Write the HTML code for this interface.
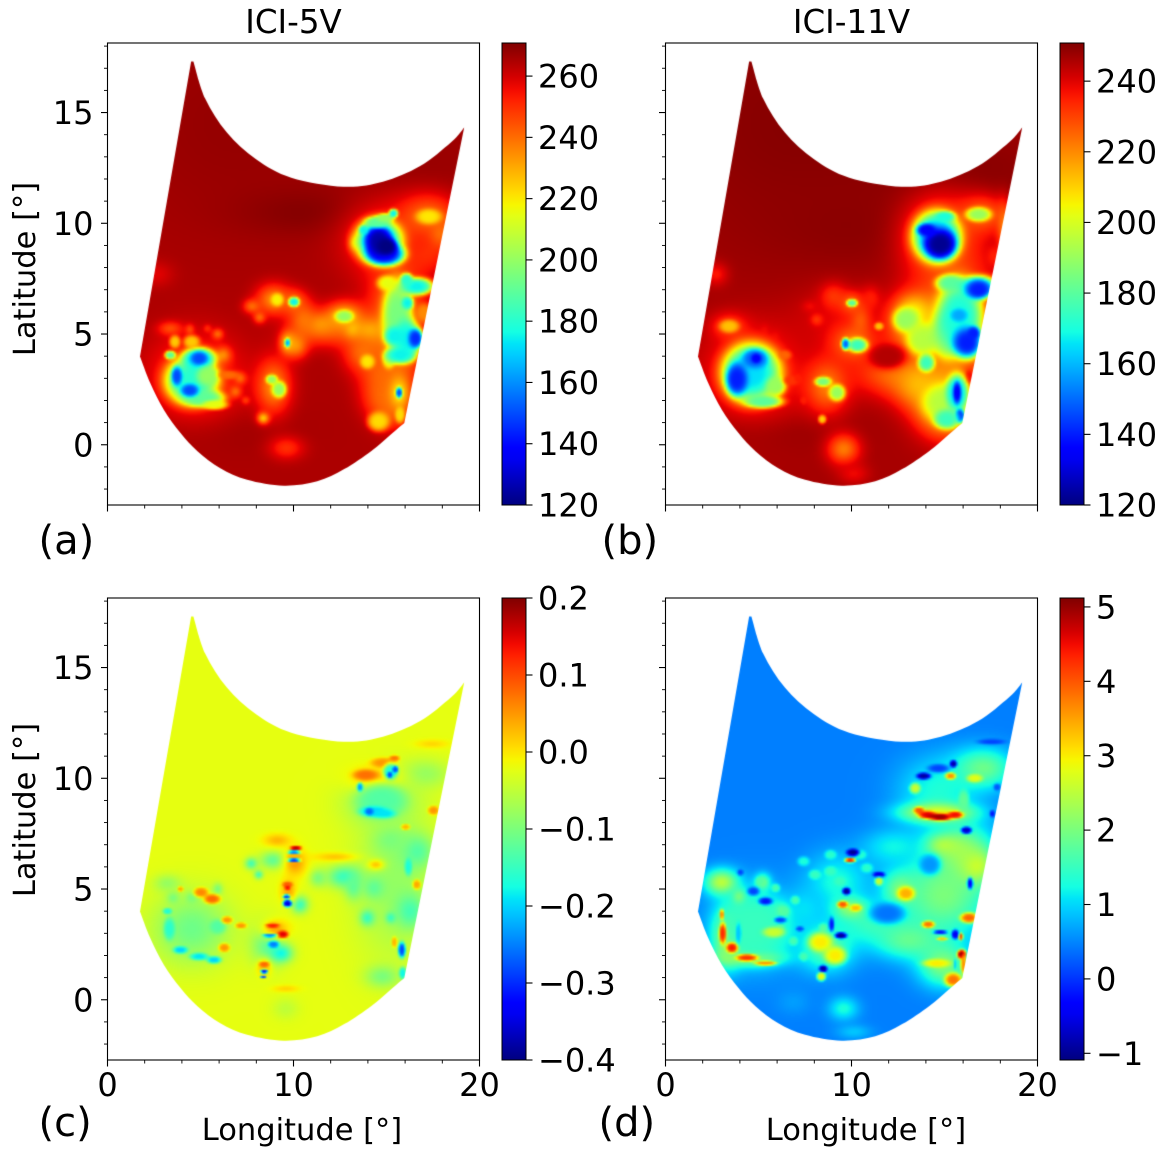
<!DOCTYPE html>
<html><head><meta charset="utf-8"><title>ICI brightness temperature maps</title>
<style>
html,body{margin:0;padding:0;background:#fff}
#stage{position:relative;width:1166px;height:1158px;overflow:hidden;background:#fff}
canvas{position:absolute}
svg{position:absolute;left:0;top:0}
text{font-family:"DejaVu Sans","Liberation Sans",sans-serif;fill:#000}
</style></head>
<body>
<div id="stage">
<canvas id="map-a" width="372" height="462" style="left:107.5px;top:43px"></canvas>
<canvas id="map-b" width="372" height="462" style="left:665.5px;top:43px"></canvas>
<canvas id="map-c" width="372" height="462" style="left:107.5px;top:598px"></canvas>
<canvas id="map-d" width="372" height="462" style="left:665.5px;top:598px"></canvas>
<svg id="overlay" width="1166" height="1158" viewBox="0 0 1166 1158">
<defs id="defs"></defs>
<text x="293.5" y="33" font-size="32.5" text-anchor="middle">ICI-5V</text>
<text x="851.5" y="33" font-size="32.5" text-anchor="middle">ICI-11V</text>
<text transform="translate(35,269) rotate(-90)" font-size="30.5" text-anchor="middle">Latitude [°]</text>
<text transform="translate(35,810) rotate(-90)" font-size="30.5" text-anchor="middle">Latitude [°]</text>
<text x="302" y="1140" font-size="30.5" text-anchor="middle">Longitude [°]</text>
<text x="866" y="1140" font-size="30.5" text-anchor="middle">Longitude [°]</text>
<text x="38.5" y="554" font-size="40">(a)</text>
<text x="601.5" y="554" font-size="40">(b)</text>
<text x="38.5" y="1136" font-size="40">(c)</text>
<text x="598.5" y="1136" font-size="40">(d)</text>
</svg>
</div>
<script>
// axis ticks
const lonTicks = [0, 10, 20];
const latTicks = [0, 5, 10, 15];
const lonMinorTicks = [2, 4, 6, 8, 12, 14, 16, 18];
const latMinorTicks = [-2, -1, 1, 2, 3, 4, 6, 7, 8, 9, 11, 12, 13, 14, 16, 17, 18];
const cbarTicksA = [120, 140, 160, 180, 200, 220, 240, 260];
const cbarTicksB = [120, 140, 160, 180, 200, 220, 240];
const cbarTicksC = [-0.4, -0.3, -0.2, -0.1, 0.0, 0.1, 0.2];
const cbarTicksD = [-1, 0, 1, 2, 3, 4, 5];
// colour ranges and background level of each panel [min, max, background]
const rangeA = [120, 270.8, 265];
const rangeB = [120, 250.8, 246.5];
const rangeC = [-0.4, 0.2, -0.022];
const rangeD = [-1.09, 5.12, 0.46];
// swath outline, read in degrees
const swathTopLon = [4.59,5.23,6.38,7.96,9.85,12.66,14.78,16.76,18.46,19.15];
const swathTopLat = [17.31,15.62,14.11,12.89,12.06,11.65,11.88,12.57,13.67,14.33];
const swathBottomLon = [15.93,15.19,14.16,12.7,11.25,9.45,7.48,6.04,4.81,3.9,3.0,2.27,1.72];
const swathBottomLat = [0.98,0.45,-0.28,-1.10,-1.65,-1.85,-1.58,-1.06,-0.29,0.53,1.58,2.79,3.99];
// map features: [lon, lat, spreadLon, spreadLat, value]; soft glows first, crisp cores after
const glowA = [
[7.1,14.5,6.3,4.2,268],[16.6,12.6,4.5,1.8,267.5],[10.7,10.5,3.2,0.9,270],[2.6,7.7,0.8,0.5,258],[5.9,0.7,3.6,0.9,267],
[9.6,-0.15,0.8,0.45,250],[14.65,9.25,1.8,1.45,250],[17.2,10.3,1.4,0.9,240],[17.25,8.65,0.9,0.8,252],[17.9,9.55,0.55,0.6,240],
[12.1,5.05,1.8,0.6,248],[8.9,6.55,0.8,0.6,235],[7.75,6.25,0.4,0.27,240],[8.15,5.75,0.27,0.23,240],[10,6.45,0.55,0.45,240],
[10.5,5.65,0.7,0.75,240],[11.4,5.4,0.7,0.45,235],[12.7,5.8,0.9,0.55,225],[13.2,5.2,0.35,0.3,225],[14.1,5.1,0.9,0.5,225],
[10.15,4.5,0.5,0.5,235],[9.65,4.6,0.35,0.42,225],[13.75,4.15,0.9,0.75,240],[15.55,5.5,1.25,2.25,230],[15.3,1.7,0.9,0.75,245],
[14.8,3.2,1,1.2,242],[15,2.2,0.9,0.8,240],
[15.4,2.8,0.7,1.2,240],[4.7,3.1,2.05,1.6,245],[3.35,5.25,0.55,0.27,245],[4.4,5.2,0.2,0.2,245],[5.35,5.25,0.18,0.15,250],
[5.9,5,0.25,0.2,240],[6.2,4.05,0.35,0.3,235],[7.1,3,0.27,0.22,240],[6.85,2.4,0.27,0.23,240],[7.4,2,0.18,0.15,248],
[8.9,2.65,0.8,1.05,235],[8.35,1.2,0.27,0.22,225],[13.2,9.1,0.22,0.27,240],[15.65,2.35,0.4,0.55,220]
];
const coreA = [
[17.25,10.3,0.7,0.35,220],[9.1,6.55,0.35,0.3,218],[10,6.45,0.3,0.22,175],[12.7,5.8,0.5,0.28,200],[9.65,4.6,0.15,0.2,165],
[13.95,3.75,0.4,0.33,220],[15.1,3.85,0.35,0.42,215],[15.55,5.8,0.8,1.65,195],[16.1,4.75,0.7,0.9,175],[15.7,4.05,0.8,0.4,175],
[15,7.3,0.55,0.35,215],[16.6,7.15,0.9,0.4,175],[16.05,7.45,0.35,0.3,180],[16.55,4.8,0.4,0.45,145],[16.1,6.4,0.32,0.3,175],
[15.4,4.9,0.55,0.45,175],[17,5.95,0.45,0.45,235],[15.65,2.35,0.18,0.25,150],[14.55,1.05,0.6,0.45,222],[15.7,1.35,0.27,0.38,222],
[4.5,2.9,1.45,1.1,180],[5.15,2.1,1.15,0.4,190],[4.9,3.9,0.9,0.5,170],[4.9,3.9,0.45,0.3,150],[3.7,3.1,0.3,0.45,150],
[4.4,2.45,0.5,0.3,150],[5.35,3.1,0.6,0.45,200],[6.5,3.15,0.6,0.2,240],[3.35,4.05,0.3,0.2,190],[3.6,4.65,0.3,0.3,225],
[4.5,4.65,0.45,0.3,225],[5.75,1.8,0.7,0.22,215],[8.8,2.95,0.32,0.22,200],[9.2,2.5,0.4,0.38,200],
[14.55,9.2,1.3,1,170],[14.9,8.6,1.05,0.52,140],[14.55,9.2,0.75,0.7,125],[15,8.95,0.55,0.4,120],[13.75,9.7,0.27,0.22,175],
[14.5,10.05,0.7,0.27,190],[14.9,10.25,0.5,0.2,200],[15.35,10.45,0.25,0.2,175]
];
const glowB = [
[7.2,14.5,7.2,4.8,250],[15.8,12.2,4.5,1.5,250],[10.4,9.9,4.5,1.5,249.5],[2.7,7.7,0.55,0.45,236],[5.3,0.7,3.6,0.75,249],
[9.55,-0.2,0.75,0.6,222],[10.1,-1.3,0.7,0.4,238],[9.2,5.8,2,1.2,240],[9,6.7,0.6,0.5,232],[7.75,6.25,0.35,0.22,238],
[8.1,5.65,0.27,0.22,232],[10,6.4,0.55,0.42,225],[11,6.65,0.45,0.45,236],[10.45,5.65,0.45,0.6,228],
[15.5,5.2,1.95,3,220],[12.2,3.25,1.8,0.9,225],[13.5,2.8,1.1,0.9,215],[11.9,4,0.8,0.45,245],[16.3,3.05,0.35,0.4,238],
[13.5,5.4,1.3,1,215],[13.3,5.9,0.8,0.7,205],[15.1,1.9,1.3,1.1,205],[4.7,3.25,2.25,1.8,230],[3.4,5.35,0.8,0.5,230],[5.3,5.2,0.2,0.2,238],[5.9,4.9,0.2,0.2,238],
[8.65,2.65,1,1.05,222],[10.05,4.6,1,0.7,222],[14.65,9.4,1.6,1.5,222],[17,10.4,1.15,0.75,225],[17.6,8.5,0.3,0.4,235],[18.15,9.85,0.3,0.9,222],
[15,1.7,1.05,0.9,215]
];
const coreB = [
[11.45,5.35,0.25,0.18,212],[12.9,5.65,0.7,0.55,190],[13.8,4.75,0.9,0.75,195],[15.1,5,0.9,1.1,190],[14,3.7,0.45,0.4,175],
[15.8,5.8,1.25,1.65,170],[15.3,7.3,0.8,0.4,180],[16.8,7.15,1,0.5,165],[16.8,7,0.7,0.45,140],[16.2,4.6,0.8,0.7,140],
[16.55,5.05,0.35,0.3,140],[15.75,5.85,0.45,0.3,158],[11.9,4,1,0.55,245],[16.3,3.05,0.22,0.3,238],[14.95,1.9,1.15,0.85,195],
[15.65,2.35,0.6,0.85,165],[15.65,2.35,0.22,0.5,135],[15.8,1.3,0.27,0.33,140],[15.1,1.15,0.7,0.45,175],
[4.6,3.25,1.6,1.35,165],[4.8,3.9,0.7,0.45,148],[4.85,3.9,0.27,0.22,135],[3.8,2.95,0.6,0.75,140],[5.25,1.95,1.05,0.3,180],
[5.9,2.65,0.55,0.45,190],[6.75,2.9,0.45,0.22,232],[3.4,5.35,0.55,0.3,212],[6.4,4.05,0.35,0.22,225],[7.1,3,0.2,0.2,235],[7.4,2,0.18,0.18,235],
[8.45,2.85,0.45,0.22,185],[9.2,2.35,0.45,0.38,190],[8.4,1.15,0.22,0.2,210],[10.3,4.5,0.55,0.33,175],[9.65,4.55,0.22,0.27,150],
[10,6.4,0.3,0.18,180],[14.55,9.4,1.3,1.15,160],[14.75,9.05,0.9,0.7,122],[14,9.7,0.55,0.3,135],[15,10.3,0.55,0.25,170],[16.8,10.4,0.7,0.33,190]
];
const glowC = [
[14.65,8.95,1.4,0.85,-0.1],[17,10.2,1.05,0.5,-0.08],[17.4,11.55,0.7,0.15,0.01],[15.4,5.3,1.6,2.55,-0.08],[16.6,6.7,0.7,0.6,-0.13],
[15.2,7.2,0.7,0.45,-0.1],[16.25,4,0.6,0.6,-0.14],[13.95,3.7,0.3,0.27,-0.15],[15.2,3.7,0.2,0.18,-0.15],[12.7,5.55,0.7,0.38,-0.15],
[10.3,4.3,0.35,0.3,-0.15],[8.9,6.3,0.55,0.3,-0.12],[7.7,6.15,0.25,0.2,-0.14],[8.1,5.65,0.18,0.15,-0.14],[11.3,5.5,0.35,0.3,-0.1],
[13.2,5.1,0.35,0.45,-0.12],[14.3,5.05,0.45,0.38,-0.12],[14.75,1.05,0.7,0.38,-0.1],[9.55,-0.4,0.55,0.38,-0.05],[9.55,0.5,0.55,0.12,0.012],
[4.5,3.2,1.6,1.2,-0.11],[3.2,5.25,0.55,0.3,-0.08],[3.5,4.6,0.25,0.2,-0.1],[4.5,4.6,0.25,0.2,-0.1],[5.9,5,0.2,0.2,-0.1],
[8.6,2.5,0.7,0.75,-0.12],[9.3,2.1,0.45,0.3,-0.18],[9.1,7.2,0.55,0.22,0.03],[10.05,6.2,0.45,0.45,0.05],[9.7,4.9,0.32,0.4,0.04],[9,3.2,0.6,0.35,0.04],[8.4,1.45,0.3,0.3,0.04],
[14.3,10,1.1,0.5,0.02],[12.2,6.45,0.9,0.15,0.02],[14.4,6.1,0.35,0.18,0.02]
];
const coreC = [
[14.7,9,1.2,0.7,-0.13],[14.3,8.5,0.7,0.22,-0.2],[14.85,8.4,0.55,0.18,-0.19],[14.05,8.5,0.2,0.15,-0.26],[13.55,9.6,0.15,0.18,-0.23],[13.85,10.15,0.6,0.22,0.075],
[14.8,10.7,0.6,0.2,0.05],[15.4,10.9,0.25,0.12,0.07],[15.2,10.3,0.35,0.33,-0.17],[15.45,10.4,0.14,0.14,-0.28],[15.15,10.15,0.14,0.12,-0.28],
[17.5,8.55,0.27,0.18,0.05],[16,7.8,0.22,0.12,0.03],[16.15,6,0.18,0.35,-0.17],[16.6,5.2,0.2,0.2,0.04],[15.8,2.25,0.18,0.32,-0.28],[15.85,1.2,0.18,0.25,-0.18],[15.4,2.6,0.14,0.22,0.03],
[3.3,3.2,0.27,0.45,-0.16],[3.9,2.25,0.35,0.15,-0.2],[4.9,1.95,0.45,0.15,-0.19],[5.7,1.8,0.35,0.15,-0.2],[3.2,4,0.22,0.12,-0.17],[5.9,3.3,0.4,0.3,-0.13],
[5,4.85,0.35,0.2,0.06],[5.6,4.55,0.4,0.2,0.08],[6.4,3.6,0.27,0.15,0.05],[7.15,3.35,0.27,0.12,0.05],[6.25,2.35,0.27,0.18,0.05],[3.9,5,0.14,0.1,0.04],
[10.1,6.85,0.27,0.09,0.17],[10,6.66,0.3,0.08,-0.25],[10,6.48,0.3,0.08,0.03],[10,6.3,0.3,0.08,-0.3],
[9.65,5.2,0.25,0.12,0.09],[9.65,5.05,0.14,0.08,0.14],[9.6,4.65,0.18,0.09,-0.3],[9.65,4.35,0.22,0.15,-0.35],
[8.85,3.35,0.32,0.09,0.13],[9.4,2.95,0.27,0.15,0.15],[8.7,2.9,0.35,0.08,-0.25],[8.9,2.5,0.27,0.15,-0.25],
[8.4,1.6,0.25,0.11,0.08],[8.4,1.28,0.18,0.09,-0.32],[8.35,1.03,0.14,0.06,-0.3]
];
const glowD = [
[11,3.4,1.4,0.65,1.4],[13,2.7,1.4,0.65,1.8],[14.9,1.6,1,0.75,2.1],[14.9,4.7,2,1.5,2],[15.8,6.7,1.3,1,2.2],[16.7,6.05,0.7,0.6,2.6],
[14.9,7,0.7,0.35,2.6],[12.6,5,0.7,0.6,2],[12.25,6.9,1.25,0.6,1.2],[9.2,5.3,1.3,1,1.3],[7.5,4.2,0.7,0.6,1],[9.95,4.1,0.7,0.38,2.2],
[14.6,9.4,1.6,1.15,1.3],[14.6,8.45,1.45,0.33,2.8],[17.05,10.45,1.25,0.7,1.9],[4.75,3.25,1.8,1.4,1.2],[3.3,2.7,0.55,0.9,2.6],[4.55,1.9,1.25,0.27,2.6],
[3,5.3,0.7,0.45,2.5],[3.95,4.6,0.27,0.27,2.5],[5.2,5.3,0.32,0.3,2],[6.2,4,0.27,0.22,2.4],[8.65,2.35,1.1,0.8,1.8],[9.55,-0.4,0.6,0.4,1.3],[10.1,-1.45,0.7,0.25,0.9],[6.85,-0.1,0.7,0.45,0.65]
];
const coreD = [
[4.75,3.3,1.9,1.5,1.5],[7.4,6.25,0.3,0.2,1.3],[8,5.65,0.3,0.2,1.5],[8.85,5.8,0.3,0.2,1.5],[9.35,5.35,0.3,0.2,1.5],[10.45,6.55,0.3,0.2,1.4],[10.8,5.95,0.3,0.2,1.4],[8.85,6.55,0.3,0.2,1.4],
[5.05,5.35,0.22,0.18,1.7],[5.9,5.05,0.22,0.18,1.6],[6.95,4.5,0.22,0.18,1.6],[6.4,4,0.22,0.18,1.7],[6.15,3.25,0.22,0.18,1.7],[6.85,2.65,0.22,0.18,1.6],[7.4,1.95,0.22,0.18,1.6],[8.45,3.25,0.22,0.18,1.7],
[11.9,3.9,0.9,0.45,0.4],[14.2,6.1,0.55,0.45,0.6],[12.9,4.8,0.45,0.3,3.4],[9.5,4.3,0.27,0.15,4],[10.2,4.15,0.3,0.15,3.3],
[9.9,6.3,0.27,0.1,4.3],[10.05,6.65,0.32,0.15,-1],[9.7,4.9,0.2,0.15,-1],[11.45,5.65,0.3,0.12,-0.6],[11.45,5.35,0.2,0.18,2.6],
[16.35,5.25,0.15,0.25,-0.3],[16.15,7.65,0.27,0.15,-0.7],[17.55,8.4,0.14,0.15,-0.2],[17.8,9.6,0.18,0.15,0.2],
[13.6,8.55,0.27,0.15,4],[14.05,8.35,0.45,0.16,4.6],[14.75,8.25,0.6,0.15,5],[15.55,8.35,0.4,0.15,4.5],[13.4,9.55,0.27,0.22,2.6],[16,9,0.27,0.45,1.8],
[13.85,10.1,0.35,0.14,-0.9],[15.45,10.65,0.18,0.15,-0.9],[14.65,10.45,0.55,0.18,0.1],[15.3,10.1,0.27,0.15,3.6],[16.6,10,0.4,0.18,2.8],[17.5,11.65,0.7,0.12,0.1],
[3,3.85,0.12,0.22,3.6],[3.05,3,0.18,0.45,4.3],[3.55,2.35,0.3,0.22,4.4],[4.35,1.9,0.55,0.15,4.2],[5.35,1.65,0.55,0.1,3.6],[3.9,3,0.14,0.45,0.9],[5.8,3.05,0.55,0.22,2.6],
[5.35,4.45,0.35,0.16,-0.2],[4.7,4.9,0.3,0.18,0.1],[4,5.75,0.16,0.13,0.1],[6.15,3.6,0.3,0.13,0.1],[7.2,3.2,0.2,0.1,0.1],[8.9,3.4,0.13,0.3,-0.2],[9.4,2.9,0.3,0.13,-1],
[8.45,1.4,0.2,0.14,-1],[8.35,1.05,0.22,0.18,2.9],[8.3,2.6,0.6,0.4,3],[9.1,2,0.55,0.38,3],
[15.9,2.05,0.22,0.2,5.1],[15.85,2.85,0.11,0.15,4.2],[15.55,2.95,0.18,0.2,-0.5],[16.3,3.7,0.45,0.22,3.9],[14.1,3.4,0.32,0.15,3.8],[14.75,3.05,0.35,0.09,-0.2],[14.85,2.75,0.27,0.08,3.2],
[14.55,1.65,0.7,0.18,3],[15.45,0.9,0.45,0.3,3.8],[16,1.6,0.15,0.45,3.6],[15.55,1.6,0.09,0.22,1]
];

// jet colormap
function jetChannel(t, knots) {
  for (let i = 1; i < knots.length; i++) {
    if (t <= knots[i][0]) {
      const a = knots[i-1], b = knots[i];
      return a[1] + (b[1]-a[1]) * (t-a[0]) / (b[0]-a[0]);
    }
  }
  return knots[knots.length-1][1];
}
const jetR = [[0,0],[0.35,0],[0.66,1],[0.89,1],[1,0.5]];
const jetG = [[0,0],[0.125,0],[0.375,1],[0.64,1],[0.91,0],[1,0]];
const jetB = [[0,0.5],[0.11,1],[0.34,1],[0.65,0],[1,0]];
function jet(t) {
  t = Math.max(0, Math.min(1, t));
  return [jetChannel(t,jetR)*255, jetChannel(t,jetG)*255, jetChannel(t,jetB)*255];
}

// axis functions (degrees to panel pixels)
const PANEL_W = 372, PANEL_H = 462;
const LON_MIN = 0, LON_MAX = 20, LAT_MIN = -2.72, LAT_MAX = 18.14;
function xScale(lon) { return (lon-LON_MIN)/(LON_MAX-LON_MIN)*PANEL_W; }
function yScale(lat) { return PANEL_H-(lat-LAT_MIN)/(LAT_MAX-LAT_MIN)*PANEL_H; }
function lonOf(px) { return LON_MIN+px/PANEL_W*(LON_MAX-LON_MIN); }
function latOf(py) { return LAT_MIN+(PANEL_H-py)/PANEL_H*(LAT_MAX-LAT_MIN); }

function applyLayer(field, w, h, cell, layer, crisp, spread) {
  layer.forEach(function (f) {
    const sx = f[2]*spread, sy = f[3]*spread;
    const x0 = Math.max(0, Math.floor(xScale(f[0]-sx*3)/cell)), x1 = Math.min(w-1, Math.ceil(xScale(f[0]+sx*3)/cell));
    const y0 = Math.max(0, Math.floor(yScale(f[1]+sy*3)/cell)), y1 = Math.min(h-1, Math.ceil(yScale(f[1]-sy*3)/cell));
    for (let j = y0; j <= y1; j++) {
      const dy = (latOf((j+0.5)*cell)-f[1])/sy;
      for (let i = x0; i <= x1; i++) {
        const dx = (lonOf((i+0.5)*cell)-f[0])/sx;
        const d2 = dx*dx+dy*dy;
        const weight = crisp ? Math.exp(-d2*d2) : Math.exp(-d2);
        field[j*w+i] += (f[4]-field[j*w+i])*weight;
      }
    }
  });
}

function traceCurve(ctx, px, py) {
  for (let i = 0; i < px.length-1; i++) {
    const p0x = px[Math.max(i-1,0)], p0y = py[Math.max(i-1,0)];
    const p3x = px[Math.min(i+2,px.length-1)], p3y = py[Math.min(i+2,px.length-1)];
    ctx.bezierCurveTo(px[i]+(px[i+1]-p0x)/6, py[i]+(py[i+1]-p0y)/6, px[i+1]-(p3x-px[i])/6, py[i+1]-(p3y-py[i])/6, px[i+1], py[i+1]);
  }
}

function drawMap(id, range, glow, core, glowSpread, coreSpread) {
  const canvas = document.getElementById(id), ctx = canvas.getContext('2d');
  const cell = 2, w = Math.ceil(PANEL_W/cell), h = Math.ceil(PANEL_H/cell);
  const field = new Float32Array(w*h).fill(range[2]);
  applyLayer(field, w, h, cell, glow, false, glowSpread);
  applyLayer(field, w, h, cell, core, true, coreSpread);
  const off = document.createElement('canvas');
  off.width = w; off.height = h;
  const octx = off.getContext('2d'), img = octx.createImageData(w, h);
  for (let k = 0; k < w*h; k++) {
    const c = jet((field[k]-range[0])/(range[1]-range[0]));
    img.data[k*4] = c[0]; img.data[k*4+1] = c[1]; img.data[k*4+2] = c[2]; img.data[k*4+3] = 255;
  }
  octx.putImageData(img, 0, 0);
  ctx.save();
  ctx.beginPath();
  ctx.moveTo(xScale(swathTopLon[0]), yScale(swathTopLat[0]));
  traceCurve(ctx, swathTopLon.map(xScale), swathTopLat.map(yScale));
  ctx.lineTo(xScale(swathBottomLon[0]), yScale(swathBottomLat[0]));
  traceCurve(ctx, swathBottomLon.map(xScale), swathBottomLat.map(yScale));
  ctx.lineTo(xScale(4.47), yScale(17.31));
  ctx.closePath();
  ctx.clip();
  ctx.imageSmoothingEnabled = true;
  ctx.drawImage(off, 0, 0, w*cell, h*cell);
  ctx.restore();
}

const svg = document.getElementById('overlay');
const NS = 'http://www.w3.org/2000/svg';
function line(x1, y1, x2, y2, width) {
  const el = document.createElementNS(NS, 'line');
  el.setAttribute('x1', x1); el.setAttribute('y1', y1);
  el.setAttribute('x2', x2); el.setAttribute('y2', y2);
  el.setAttribute('stroke', '#000'); el.setAttribute('stroke-width', width);
  svg.appendChild(el);
  return el;
}
function label(x, y, str, anchor) {
  const el = document.createElementNS(NS, 'text');
  el.setAttribute('x', x); el.setAttribute('y', y);
  el.setAttribute('font-size', '32');
  el.setAttribute('text-anchor', anchor);
  el.textContent = str;
  svg.appendChild(el);
  return el;
}
function drawAxes(left, top, showLon, showLat) {
  const frame = document.createElementNS(NS, 'rect');
  
  
  frame.setAttribute('x', left); frame.setAttribute('y', top);
  frame.setAttribute('width', PANEL_W); frame.setAttribute('height', PANEL_H);
  frame.setAttribute('fill', 'none'); frame.setAttribute('stroke', '#000'); frame.setAttribute('stroke-width', '1.1');
  svg.appendChild(frame);
  const bottom = top+PANEL_H;
  lonTicks.forEach(function (v) {
    const t = line(left+xScale(v), bottom, left+xScale(v), bottom+6.5, 1.1);
    
    
    if (showLon) {
      const l = label(left+xScale(v), bottom+36, String(v), 'middle');
      
      
    }
  });
  lonMinorTicks.forEach(function (v) {
    const t = line(left+xScale(v), bottom, left+xScale(v), bottom+3.5, 0.9);
    
    
  });
  latTicks.forEach(function (v) {
    const t = line(left-6.5, top+yScale(v), left, top+yScale(v), 1.1);
    
    
    if (showLat) {
      const l = label(left-14, top+yScale(v)+11.5, String(v), 'end');
      
      
    }
  });
  latMinorTicks.forEach(function (v) {
    const t = line(left-3.5, top+yScale(v), left, top+yScale(v), 0.9);
    
    
  });
}
function drawColorbar(left, top, range, ticks, id, format) {
  const w = 24;
  const grad = document.createElementNS(NS, 'linearGradient');
  grad.setAttribute('id', id);
  grad.setAttribute('x1', '0'); grad.setAttribute('y1', '1');
  grad.setAttribute('x2', '0'); grad.setAttribute('y2', '0');
  for (let i = 0; i <= 40; i++) {
    const c = jet(i/40), s = document.createElementNS(NS, 'stop');
    s.setAttribute('offset', i/40);
    s.setAttribute('stop-color', 'rgb('+c.map(Math.round).join(',')+')');
    grad.appendChild(s);
  }
  document.getElementById('defs').appendChild(grad);
  const bar = document.createElementNS(NS, 'rect');
  
  
  bar.setAttribute('x', left); bar.setAttribute('y', top);
  bar.setAttribute('width', w); bar.setAttribute('height', PANEL_H);
  bar.setAttribute('fill', 'url(#'+id+')'); bar.setAttribute('stroke', '#000'); bar.setAttribute('stroke-width', '1');
  svg.appendChild(bar);
  ticks.forEach(function (v) {
    const y = top+PANEL_H-(v-range[0])/(range[1]-range[0])*PANEL_H;
    const t = line(left+w, y, left+w+6.5, y, 1.1);
    
    
    const l = label(left+w+12, y+11.5, format(v), 'start');
    
    
  });
}
const asInt = function (v) { return String(v).replace('-', '\u2212'); };
const asDec = function (v) { return v.toFixed(1).replace('-', '\u2212'); };

drawMap('map-a', rangeA, glowA, coreA, 1.15, 1.0);
drawMap('map-b', rangeB, glowB, coreB, 1.15, 1.0);
drawMap('map-c', rangeC, glowC, coreC, 1.3, 1.15);
drawMap('map-d', rangeD, glowD, coreD, 1.3, 1.1);
drawAxes(107.5, 43, false, true);
drawAxes(665.5, 43, false, false);
drawAxes(107.5, 598, true, true);
drawAxes(665.5, 598, true, false);
drawColorbar(502, 43, rangeA, cbarTicksA, 'jet-a', asInt);
drawColorbar(1060, 43, rangeB, cbarTicksB, 'jet-b', asInt);
drawColorbar(502, 598, rangeC, cbarTicksC, 'jet-c', asDec);
drawColorbar(1060, 598, rangeD, cbarTicksD, 'jet-d', asInt);
</script>
</body></html>
